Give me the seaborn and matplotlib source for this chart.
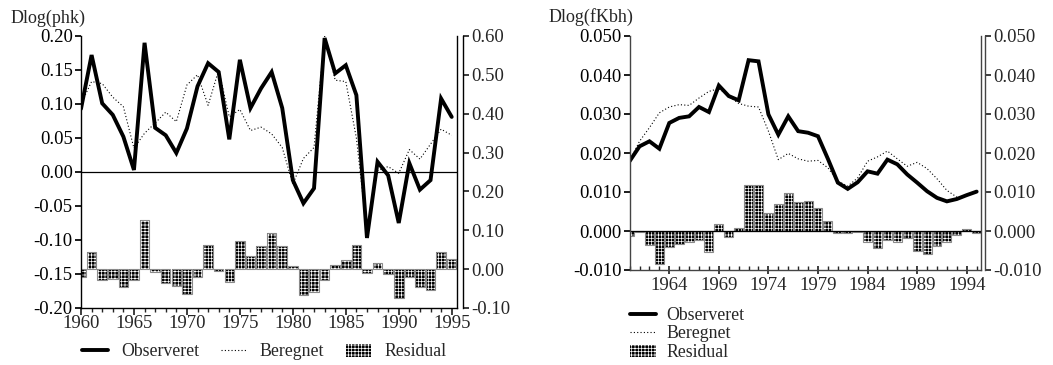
import matplotlib
matplotlib.use("Agg")
import matplotlib.pyplot as plt
import seaborn as sns
import numpy as np
from matplotlib.lines import Line2D
from matplotlib.patches import Patch, Rectangle
from matplotlib.ticker import MultipleLocator, FixedLocator, FormatStrFormatter

sns.set_theme(style="ticks")
plt.rcParams["font.family"] = ["Liberation Serif", "DejaVu Serif"]
plt.rcParams["axes.unicode_minus"] = False
plt.rcParams["hatch.linewidth"] = 0.5

# Data
years = list(range(1960, 1996))

phk_obs = [0.093, 0.172, 0.101, 0.084, 0.052, 0.003, 0.190, 0.065, 0.054, 0.028,
           0.064, 0.126, 0.160, 0.147, 0.048, 0.165, 0.094, 0.123, 0.147, 0.094,
           -0.012, -0.046, -0.024, 0.197, 0.145, 0.157, 0.113, -0.097, 0.015, -0.005,
           -0.075, 0.013, -0.026, -0.012, 0.108, 0.081]
phk_ber = [0.100, 0.133, 0.130, 0.110, 0.096, 0.035, 0.057, 0.072, 0.088, 0.074,
           0.128, 0.143, 0.098, 0.150, 0.081, 0.092, 0.061, 0.066, 0.056, 0.036,
           -0.018, 0.020, 0.036, 0.200, 0.135, 0.133, 0.050, -0.088, 0.002, 0.008,
           -0.002, 0.033, 0.019, 0.041, 0.063, 0.054]
phk_res = [-0.019, 0.043, -0.029, -0.026, -0.045, -0.029, 0.127, -0.008, -0.036, -0.043,
           -0.063, -0.021, 0.063, -0.005, -0.033, 0.073, 0.034, 0.060, 0.093, 0.060,
           0.007, -0.066, -0.059, -0.027, 0.010, 0.024, 0.063, -0.009, 0.015, -0.013,
           -0.073, -0.021, -0.045, -0.053, 0.045, 0.027]

kbh_obs = [0.0179, 0.0217, 0.0230, 0.0211, 0.0277, 0.0290, 0.0294, 0.0318, 0.0305, 0.0373,
           0.0346, 0.0335, 0.0438, 0.0435, 0.0299, 0.0247, 0.0294, 0.0256, 0.0252, 0.0243,
           0.0185, 0.0124, 0.0108, 0.0125, 0.0153, 0.0147, 0.0183, 0.0171, 0.0145, 0.0124,
           0.0102, 0.0085, 0.0076, 0.0082, 0.0092, 0.0101]
kbh_ber = [0.0180, 0.0230, 0.0265, 0.0303, 0.0318, 0.0324, 0.0322, 0.0341, 0.0358, 0.0365,
           0.0346, 0.0327, 0.0320, 0.0318, 0.0256, 0.0183, 0.0199, 0.0185, 0.0179, 0.0181,
           0.0162, 0.0128, 0.0115, 0.0136, 0.0179, 0.0190, 0.0205, 0.0185, 0.0166, 0.0176,
           0.0160, 0.0134, 0.0104, 0.0087, 0.0090, 0.0100]
kbh_res = [-0.0012, -0.0002, -0.0035, -0.0084, -0.0041, -0.0033, -0.0029, -0.0024, -0.0053, 0.0017,
           -0.0016, 0.0008, 0.0119, 0.0118, 0.0047, 0.0070, 0.0098, 0.0074, 0.0076, 0.0059,
           0.0025, -0.0006, -0.0005, -0.0003, -0.0028, -0.0043, -0.0022, -0.0028, -0.0019, -0.0050,
           -0.0059, -0.0039, -0.0028, -0.0009, 0.0006, -0.0005]

HATCH = "+++++"
FS = 13.5      # tick labels
FS_TXT = 13    # titles
FS_LEG = 12.8  # legends


def draw_panel(ax, obs, ber, res, spine_col, offset):
    ax2 = ax.twinx()
    sns.barplot(x=years, y=res, ax=ax2, native_scale=True, color="black",
                saturation=1, width=0.9, errorbar=None)
    for p in list(ax2.patches):
        p.set_facecolor("black")
        p.set_edgecolor("white")
        p.set_hatch(HATCH)
        p.set_linewidth(0)
        ax2.add_patch(Rectangle(p.get_xy(), p.get_width(), p.get_height(),
                                fill=False, edgecolor="#8a8a8a", linewidth=0.8))

    sns.lineplot(x=years, y=ber, ax=ax, color="black", linewidth=0.8,
                 linestyle=(0, (1, 2)))
    sns.lineplot(x=years, y=obs, ax=ax, color="black", linewidth=2.8,
                 solid_joinstyle="miter")

    ax.set_zorder(ax2.get_zorder() + 1)
    ax.patch.set_visible(False)

    ax.spines["top"].set_visible(False)
    ax2.spines["top"].set_visible(False)
    ax2.spines["left"].set_visible(False)
    ax2.spines["bottom"].set_visible(False)
    ax2.spines["right"].set_position(("outward", offset))
    for s in ["left", "bottom", "right"]:
        ax.spines[s].set_color(spine_col)
        ax.spines[s].set_linewidth(1.0)
    ax2.spines["right"].set_color(spine_col)
    ax2.spines["right"].set_linewidth(1.0)

    ax.tick_params(axis="y", which="both", right=False, direction="out",
                   length=4, labelsize=FS, colors="black", pad=2)
    ax2.tick_params(axis="y", direction="out", length=4, labelsize=FS, pad=2)
    ax.set_xlabel("")
    ax.set_ylabel("")
    ax2.set_xlabel("")
    ax2.set_ylabel("")
    return ax2


fig = plt.figure(figsize=(10.53, 3.65), dpi=100)
W, H = 1053, 365

# Left panel
axL = fig.add_axes([81 / W, 1 - 308 / H, 376 / W, 272 / H])
axL2 = draw_panel(axL, phk_obs, phk_ber, phk_res, "black", 4)
axL.axhline(0, color="black", linewidth=0.9, zorder=0)
axL.set_xlim(1960, 1995.5)
axL.set_ylim(-0.2, 0.2)
axL.yaxis.set_major_locator(MultipleLocator(0.05))
axL.yaxis.set_major_formatter(FormatStrFormatter("%.2f"))
axL2.set_ylim(-0.1, 0.6)
axL2.yaxis.set_major_locator(MultipleLocator(0.1))
axL2.yaxis.set_major_formatter(FormatStrFormatter("%.2f"))
axL.xaxis.set_major_locator(MultipleLocator(5))
axL.xaxis.set_minor_locator(MultipleLocator(1))
axL.xaxis.set_major_formatter(FormatStrFormatter("%d"))
axL.tick_params(axis="x", which="major", direction="out", length=5, labelsize=FS, pad=0)
axL.tick_params(axis="x", which="minor", direction="out", length=3)

# Right panel
axR = fig.add_axes([629.6 / W, 1 - 270 / H, 351.4 / W, 234 / H])
axR2 = draw_panel(axR, kbh_obs, kbh_ber, kbh_res, "#444444", 3)
axR.axhline(0, color="black", linewidth=0.9, zorder=0)
axR.set_xlim(1960, 1995.44)
axR.set_ylim(-0.01, 0.05)
axR2.set_ylim(-0.01, 0.05)
for a in (axR, axR2):
    a.yaxis.set_major_locator(MultipleLocator(0.01))
    a.yaxis.set_major_formatter(FormatStrFormatter("%.3f"))
axR.xaxis.set_major_locator(FixedLocator(list(range(1964, 1995, 5))))
axR.xaxis.set_minor_locator(MultipleLocator(1))
axR.xaxis.set_major_formatter(FormatStrFormatter("%d"))
axR.tick_params(axis="x", which="major", direction="inout", length=6, labelsize=FS, pad=2)
axR.tick_params(axis="x", which="minor", direction="in", length=3)

# Titles
fig.text(11 / W, 1 - 18 / H, "Dlog(phk)", fontsize=FS_TXT, ha="left", va="center")
fig.text(549 / W, 1 - 17 / H, "Dlog(fKbh)", fontsize=FS_TXT, ha="left", va="center")

# Legends
handles = [
    Line2D([], [], color="black", linewidth=2.8),
    Line2D([], [], color="black", linewidth=0.8, linestyle=(0, (1, 2))),
    Patch(facecolor="black", edgecolor="white", hatch=HATCH, linewidth=0),
]
labels = ["Observeret", "Beregnet", "Residual"]

fig.legend(handles, labels, loc="center left", bbox_to_anchor=(82 / W, 1 - 352 / H),
           ncol=3, frameon=False, fontsize=FS_LEG, borderpad=0, borderaxespad=0,
           handlelength=1.45, handletextpad=0.75, columnspacing=1.2)
fig.legend(handles, labels, loc="center left", bbox_to_anchor=(630 / W, 1 - 334 / H),
           ncol=1, frameon=False, fontsize=FS_LEG, borderpad=0, borderaxespad=0,
           handlelength=1.45, handletextpad=0.6, labelspacing=0.1)

fig.savefig("out.png", dpi=100)
